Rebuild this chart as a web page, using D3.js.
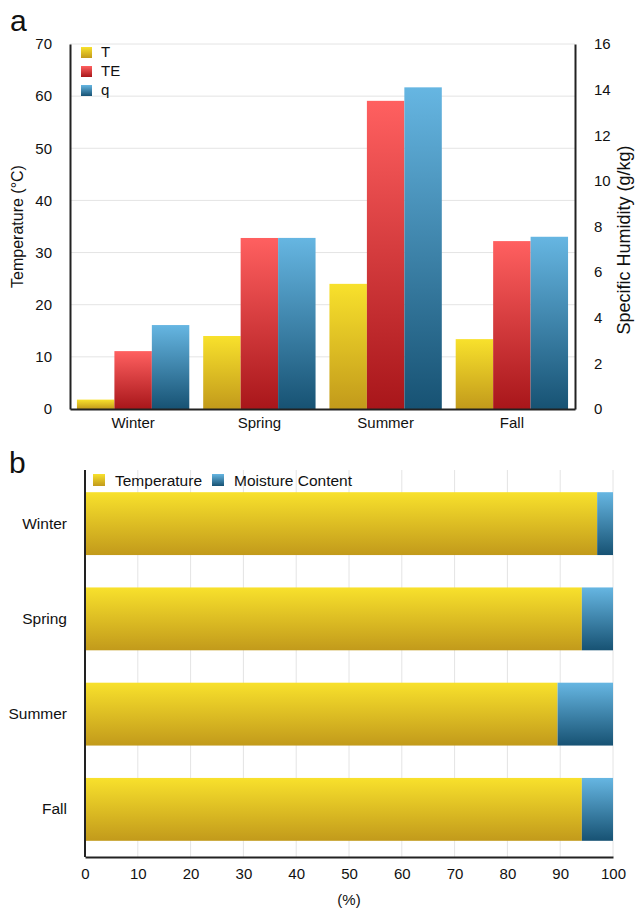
<!DOCTYPE html>
<html>
<head>
<meta charset="utf-8">
<script src="https://cdn.jsdelivr.net/npm/d3@7"></script>
<style>
  body { margin: 0; background: #fff; }
  svg text { font-family: "Liberation Sans", Arial, sans-serif; fill: #111; }
</style>
</head>
<body>
<svg id="chart" width="635" height="910"></svg>
<script>
const seasons = ['Winter', 'Spring', 'Summer', 'Fall'];
const tempT = [1.8, 14.0, 24.0, 13.4];
const tempTE = [11.1, 32.8, 59.1, 32.2];
const humidityQ = [3.68, 7.5, 14.1, 7.55];
const tempShare = [97.0, 94.1, 89.5, 94.1];
const moistShare = tempShare.map(d => 100 - d);
const leftTicks = [0, 10, 20, 30, 40, 50, 60, 70];
const rightTicks = [0, 2, 4, 6, 8, 10, 12, 14, 16];
const pctTicks = [0, 10, 20, 30, 40, 50, 60, 70, 80, 90, 100];

const svg = d3.select('#chart');
const defs = svg.append('defs');

function grad(id, top, bottom) {
  const g = defs.append('linearGradient').attr('id', id)
    .attr('x1', 0).attr('y1', 0).attr('x2', 0).attr('y2', 1);
  g.append('stop').attr('offset', '0%').attr('stop-color', top);
  g.append('stop').attr('offset', '100%').attr('stop-color', bottom);
}
grad('gY', '#f8e12c', '#c29a1b');
grad('gR', '#ff6060', '#a8161a');
grad('gB', '#66b6e2', '#175273');

// ---------- panel a ----------
const a = { left: 70, right: 575, top: 44, bottom: 409 };

const x0 = d3.scaleBand().domain(seasons).range([a.left, a.right])
  .paddingInner(0.11).paddingOuter(0.055);
const x1 = d3.scaleBand().domain(['T', 'TE', 'q']).range([0, x0.bandwidth()]);
const yL = d3.scaleLinear().domain([0, 70]).range([a.bottom, a.top]);
const yR = d3.scaleLinear().domain([0, 16]).range([a.bottom, a.top]);

svg.append('text').attr('x', 10).attr('y', 31).attr('font-size', 30).text('a');

svg.append('g').selectAll('line').data(leftTicks.slice(1)).enter().append('line')
  .attr('x1', a.left).attr('x2', a.right)
  .attr('y1', d => yL(d)).attr('y2', d => yL(d))
  .attr('stroke', '#e4e4e4').attr('stroke-width', 1);

const series = [
  { key: 'T', vals: tempT, scale: yL, fill: 'url(#gY)' },
  { key: 'TE', vals: tempTE, scale: yL, fill: 'url(#gR)' },
  { key: 'q', vals: humidityQ, scale: yR, fill: 'url(#gB)' }
];

series.forEach(s => {
  svg.append('g').selectAll('rect').data(seasons).enter().append('rect')
    .attr('x', (d) => x0(d) + x1(s.key))
    .attr('width', x1.bandwidth())
    .attr('y', (d, i) => s.scale(s.vals[i]))
    .attr('height', (d, i) => a.bottom - s.scale(s.vals[i]))
    .attr('fill', s.fill);
});

const axL = svg.append('g').attr('transform', `translate(${a.left},0)`)
  .call(d3.axisLeft(yL).tickValues(leftTicks).tickSize(0).tickPadding(18));
const axR = svg.append('g').attr('transform', `translate(${a.right},0)`)
  .call(d3.axisRight(yR).tickValues(rightTicks).tickSize(0).tickPadding(19));
const axB = svg.append('g').attr('transform', `translate(0,${a.bottom})`)
  .call(d3.axisBottom(x0).tickSize(0).tickPadding(8));
[axL, axR, axB].forEach(g => {
  g.select('.domain').attr('stroke', '#222').attr('stroke-width', 2);
  g.selectAll('text').attr('font-size', 15).attr('fill', '#111')
    .attr('font-family', '"Liberation Sans", Arial, sans-serif');
});

svg.append('text').attr('transform', `translate(23,${(a.top + a.bottom) / 2}) rotate(-90)`)
  .attr('text-anchor', 'middle').attr('font-size', 16).text('Temperature (°C)');
svg.append('text').attr('transform', `translate(630,240) rotate(-90)`)
  .attr('text-anchor', 'middle').attr('font-size', 18).text('Specific Humidity (g/kg)');

const legA = svg.append('g');
series.forEach((s, i) => {
  legA.append('rect').attr('x', 81).attr('y', 47 + i * 19).attr('width', 11).attr('height', 11)
    .attr('fill', s.fill);
  legA.append('text').attr('x', 101).attr('y', 57 + i * 19).attr('font-size', 15).text(s.key);
});

// ---------- panel b ----------
const b = { left: 85, right: 613, top: 476, bottom: 857 };
const xP = d3.scaleLinear().domain([0, 100]).range([b.left, b.right]);
const yB = d3.scaleBand().domain(seasons).range([b.top, b.bottom]).paddingInner(0.34).paddingOuter(0.17);

svg.append('text').attr('x', 9).attr('y', 473).attr('font-size', 30).text('b');

svg.append('g').selectAll('line').data(pctTicks.slice(1)).enter().append('line')
  .attr('x1', d => xP(d)).attr('x2', d => xP(d))
  .attr('y1', b.top - 6).attr('y2', b.bottom)
  .attr('stroke', '#e4e4e4').attr('stroke-width', 1);

svg.append('g').selectAll('rect').data(seasons).enter().append('rect')
  .attr('x', xP(0)).attr('y', d => yB(d))
  .attr('width', (d, i) => xP(tempShare[i]) - xP(0))
  .attr('height', yB.bandwidth()).attr('fill', 'url(#gY)');
svg.append('g').selectAll('rect').data(seasons).enter().append('rect')
  .attr('x', (d, i) => xP(tempShare[i])).attr('y', d => yB(d))
  .attr('width', (d, i) => xP(tempShare[i] + moistShare[i]) - xP(tempShare[i]))
  .attr('height', yB.bandwidth()).attr('fill', 'url(#gB)');

const axBL = svg.append('g').attr('transform', `translate(${b.left},0)`)
  .call(d3.axisLeft(yB).tickSize(0).tickPadding(18));
const axBB = svg.append('g').attr('transform', `translate(0,${b.bottom})`)
  .call(d3.axisBottom(xP).tickValues(pctTicks).tickSize(0).tickPadding(11));
[axBL, axBB].forEach(g => {
  g.select('.domain').attr('stroke', '#222').attr('stroke-width', 2);
  g.selectAll('text').attr('font-size', 15).attr('fill', '#111')
    .attr('font-family', '"Liberation Sans", Arial, sans-serif');
});
axBL.selectAll('text').attr('font-size', 15.5);
axBL.select('.domain').attr('d', `M0,${b.top - 6}V${b.bottom}`);

svg.append('text').attr('x', (b.left + b.right) / 2).attr('y', 905)
  .attr('text-anchor', 'middle').attr('font-size', 15).text('(%)');

const legB = [{ label: 'Temperature', fill: 'url(#gY)', x: 93 }, { label: 'Moisture Content', fill: 'url(#gB)', x: 212 }];
legB.forEach(l => {
  svg.append('rect').attr('x', l.x).attr('y', 474).attr('width', 12).attr('height', 12).attr('fill', l.fill);
  svg.append('text').attr('x', l.x + 22).attr('y', 486).attr('font-size', 15.5).text(l.label);
});
</script>
</body>
</html>
